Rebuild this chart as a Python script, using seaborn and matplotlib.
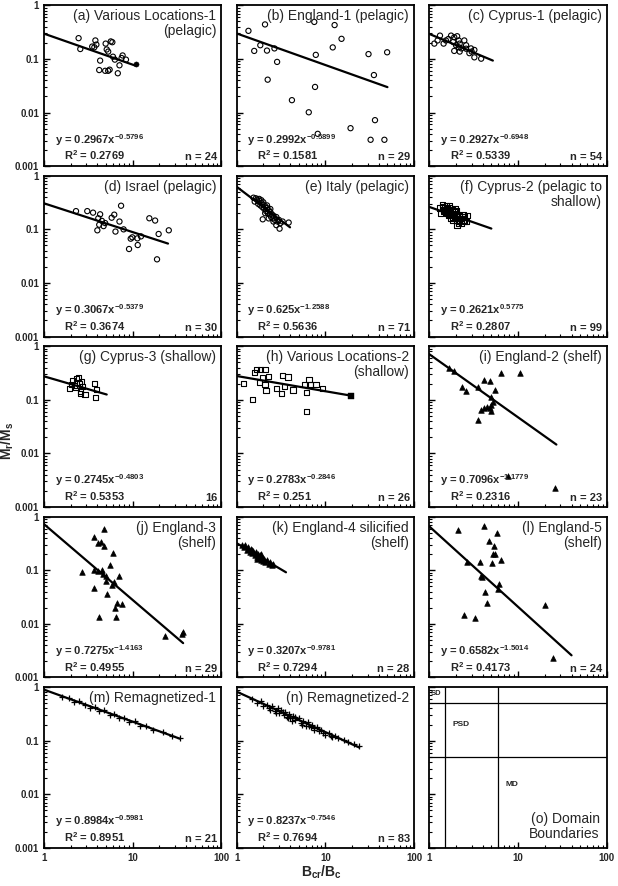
import numpy as np
import matplotlib
matplotlib.use('Agg')
import matplotlib.pyplot as plt
import matplotlib.ticker as mticker
import seaborn as sns

sns.set_theme(style='ticks')
plt.rcParams['font.family'] = ['Liberation Sans', 'DejaVu Sans']
plt.rcParams['mathtext.default'] = 'regular'

# ---- data (Bcr/Bc, Mr/Ms) ----
a_x = [2.46, 2.57, 3.8, 3.9, 3.7, 4.96, 5.67, 5.9, 5.3, 4.3, 4.2, 4.9, 5.3, 5.5, 6.8, 6.3, 7.1, 7.7, 8.4, 7.5, 3.5, 5.1, 6.0]
a_y = [0.244, 0.153, 0.221, 0.185, 0.165, 0.193, 0.212, 0.205, 0.137, 0.093, 0.062, 0.060, 0.060, 0.063, 0.054, 0.097, 0.076, 0.116, 0.097, 0.104, 0.17, 0.15, 0.11]
a_fill_x = [10.8]
a_fill_y = [0.082]

b_x = [1.36, 1.58, 1.85, 2.09, 2.2, 2.67, 2.86, 2.24, 4.2, 6.5, 7.5, 7.8, 7.65, 8.2, 12.1, 12.7, 15.2, 19.2, 30.6, 35.2, 36.2, 32.3, 46.2, 49.6]
b_y = [0.334, 0.141, 0.18, 0.44, 0.143, 0.157, 0.088, 0.041, 0.017, 0.0101, 0.49, 0.119, 0.030, 0.0040, 0.164, 0.428, 0.237, 0.0051, 0.123, 0.050, 0.0072, 0.0031, 0.0031, 0.133]

c_x = [1.14, 1.24, 1.32, 1.54, 1.76, 1.91, 2.06, 2.15, 1.86, 2.0, 2.2, 2.48, 2.6, 1.91, 2.3, 2.83, 3.0, 3.22, 3.22, 3.84, 2.95, 2.15, 1.64, 1.45, 2.6, 2.2]
c_y = [0.193, 0.221, 0.272, 0.221, 0.272, 0.254, 0.265, 0.221, 0.207, 0.18, 0.193, 0.221, 0.18, 0.141, 0.157, 0.128, 0.137, 0.147, 0.107, 0.101, 0.157, 0.165, 0.235, 0.193, 0.155, 0.137]

d_x = [2.3, 3.08, 3.58, 4.3, 4.1, 4.5, 4.2, 4.7, 4.0, 4.9, 5.8, 6.2, 7.1, 6.4, 7.4, 7.9, 9.1, 9.5, 9.9, 11.4, 11.3, 12.4, 15.4, 17.9, 18.8, 19.6, 25.5]
d_y = [0.219, 0.219, 0.205, 0.191, 0.161, 0.144, 0.122, 0.115, 0.096, 0.131, 0.165, 0.188, 0.14, 0.091, 0.276, 0.1, 0.043, 0.067, 0.071, 0.051, 0.068, 0.074, 0.161, 0.146, 0.0276, 0.082, 0.096]

e_x = [1.55, 1.6, 1.7, 1.75, 1.8, 1.85, 1.9, 1.95, 2.0, 2.05, 2.1, 2.15, 2.2, 2.25, 2.3, 2.35, 2.4, 2.45, 2.5, 2.55,
       2.6, 2.7, 2.8, 2.9, 3.0, 3.1, 3.3, 3.05, 3.86, 1.97, 1.65, 1.8, 2.0, 2.2, 2.4, 2.6, 2.8, 2.3, 2.1, 1.9]
e_y = [0.39, 0.33, 0.36, 0.30, 0.34, 0.28, 0.31, 0.26, 0.29, 0.24, 0.27, 0.22, 0.25, 0.20, 0.23, 0.19, 0.21, 0.17, 0.19, 0.16,
       0.18, 0.15, 0.17, 0.14, 0.15, 0.13, 0.14, 0.103, 0.134, 0.154, 0.38, 0.37, 0.32, 0.28, 0.24, 0.14, 0.12, 0.16, 0.20, 0.35]

f_x = [1.3, 1.35, 1.41, 1.45, 1.5, 1.55, 1.6, 1.65, 1.68, 1.7, 1.75, 1.8, 1.85, 1.9, 1.95, 2.0, 2.05, 2.1, 2.15, 2.2, 2.3, 2.4, 2.5,
       2.6, 2.7, 1.4, 1.5, 1.6, 1.7, 1.8, 1.9, 2.0, 2.1, 2.2, 2.3, 2.4, 2.5, 1.55, 1.75, 1.95, 2.15, 2.35, 1.65, 1.85, 2.05]
f_y = [0.25, 0.197, 0.295, 0.22, 0.26, 0.20, 0.24, 0.18, 0.276, 0.22, 0.19, 0.23, 0.17, 0.21, 0.16, 0.20, 0.15, 0.19, 0.14, 0.18, 0.16, 0.15, 0.17,
       0.14, 0.179, 0.27, 0.23, 0.21, 0.25, 0.20, 0.18, 0.22, 0.17, 0.15, 0.13, 0.19, 0.14, 0.28, 0.16, 0.24, 0.13, 0.17, 0.19, 0.15, 0.12]

g_x = [1.95, 2.12, 2.34, 2.43, 2.5, 2.2, 2.67, 2.6, 2.57, 2.9, 3.7, 3.9, 3.8, 2.05, 2.3, 2.75]
g_y = [0.164, 0.229, 0.247, 0.265, 0.203, 0.182, 0.222, 0.146, 0.132, 0.125, 0.203, 0.157, 0.111, 0.19, 0.17, 0.18]

h_x = [1.19, 1.51, 1.58, 1.66, 1.86, 2.09, 1.8, 1.96, 2.28, 2.14, 2.09, 2.79, 3.18, 3.3, 3.79, 3.5, 4.33, 5.78, 6.1, 6.15, 6.55, 6.8, 7.86, 9.36]
h_y = [0.203, 0.1, 0.319, 0.37, 0.37, 0.37, 0.212, 0.258, 0.274, 0.15, 0.196, 0.162, 0.131, 0.287, 0.266, 0.175, 0.152, 0.191, 0.139, 0.061, 0.239, 0.191, 0.191, 0.160]
h_fill_x = [19.2]
h_fill_y = [0.116]

i_x = [1.68, 1.92, 2.32, 2.62, 3.58, 4.18, 4.89, 5.52, 5.0, 3.78, 3.58, 4.1, 4.5, 4.89, 5.0, 5.0, 5.2, 6.34, 10.4, 7.8, 26.3]
i_y = [0.388, 0.348, 0.172, 0.146, 0.172, 0.239, 0.229, 0.152, 0.113, 0.064, 0.042, 0.07, 0.075, 0.07, 0.081, 0.062, 0.09, 0.314, 0.314, 0.0038, 0.0023]

j_x = [2.72, 3.64, 4.03, 4.4, 4.72, 4.8, 3.67, 4.1, 4.5, 4.64, 4.95, 4.95, 3.64, 4.2, 5.2, 5.53, 6.0, 5.9, 6.1, 6.37, 6.5, 6.7, 7.5, 7.1, 23.4, 36.1, 37.0]
j_y = [0.093, 0.41, 0.326, 0.34, 0.58, 0.289, 0.103, 0.097, 0.1, 0.086, 0.079, 0.063, 0.046, 0.0132, 0.036, 0.126, 0.206, 0.052, 0.06, 0.02, 0.0132, 0.025, 0.023, 0.077, 0.006, 0.0066, 0.007]

k_x = [1.15, 1.2, 1.25, 1.3, 1.35, 1.4, 1.45, 1.5, 1.55, 1.6, 1.65, 1.7, 1.75, 1.8, 1.85, 1.9, 1.95, 2.0, 2.05, 2.1, 2.2, 2.3, 2.4, 2.5, 2.6, 1.5, 1.7, 1.9]
k_y = [0.30, 0.27, 0.29, 0.24, 0.27, 0.22, 0.25, 0.21, 0.23, 0.19, 0.22, 0.18, 0.20, 0.17, 0.19, 0.155, 0.175, 0.15, 0.165, 0.14, 0.155, 0.13, 0.145, 0.125, 0.13, 0.24, 0.16, 0.20]

l_x = [2.09, 4.18, 5.77, 4.68, 5.33, 5.2, 5.5, 5.06, 6.45, 3.7, 2.66, 3.84, 3.9, 6.07, 6.0, 4.29, 4.49, 2.49, 3.31, 19.9, 24.8]
l_y = [0.558, 0.681, 0.501, 0.352, 0.28, 0.2, 0.2, 0.136, 0.154, 0.142, 0.142, 0.079, 0.074, 0.056, 0.044, 0.039, 0.024, 0.0147, 0.0126, 0.0226, 0.0023]

m_x = [1.6, 1.9, 2.2, 2.5, 2.9, 3.3, 3.8, 4.2, 4.8, 5.5, 6.2, 7.0, 8.0, 9.0, 10.5, 12, 14, 17, 22, 28, 34]
m_y = [0.66, 0.63, 0.52, 0.55, 0.46, 0.41, 0.43, 0.36, 0.37, 0.30, 0.32, 0.27, 0.27, 0.22, 0.23, 0.19, 0.19, 0.16, 0.145, 0.125, 0.11]

n_x = [1.5, 1.7, 1.9, 2.0, 2.2, 2.4, 2.5, 2.7, 2.9, 3.0, 3.2, 3.4, 3.5, 3.7, 3.9, 4.0, 4.3, 4.6, 5.0, 5.3, 5.6, 6.0, 6.4,
       6.8, 7.0, 7.5, 8.0, 8.5, 9.0, 10, 11, 12, 13, 14, 2.3, 2.8, 3.3, 3.8, 4.5, 5.5, 6.5, 7.5, 9.5, 11.5, 4.2,
       16, 18, 21, 24]
n_y = [0.60, 0.50, 0.55, 0.45, 0.47, 0.38, 0.44, 0.36, 0.40, 0.33, 0.37, 0.30, 0.34, 0.28, 0.31, 0.27, 0.29, 0.24, 0.26, 0.21, 0.23, 0.19, 0.22,
       0.18, 0.20, 0.16, 0.18, 0.15, 0.16, 0.13, 0.14, 0.115, 0.12, 0.11, 0.40, 0.33, 0.35, 0.26, 0.28, 0.20, 0.19, 0.17, 0.14, 0.12, 0.23,
       0.105, 0.095, 0.088, 0.078]

# power-law fits y = A x^B, drawn from x = 1 to line_end
fit_a = [0.2967, 0.2992, 0.2927, 0.3067, 0.625, 0.2621, 0.2745, 0.2783, 0.7096, 0.7275, 0.3207, 0.6582, 0.8984, 0.8237]
fit_b = [-0.5796, -0.5899, -0.6948, -0.5379, -1.2588, -0.5775, -0.4803, -0.2846, -1.1779, -1.4163, -0.9781, -1.5014, -0.5981, -0.7546]
line_end = [10.8, 50, 5.2, 25, 4.0, 5.0, 5.1, 19.2, 27, 37, 3.6, 40, 34, 24]

eq_text = ['y = 0.2967x$^{-0.5796}$', 'y = 0.2992x$^{-0.5899}$', 'y = 0.2927x$^{-0.6948}$',
           'y = 0.3067x$^{-0.5379}$', 'y = 0.625x$^{-1.2588}$', 'y = 0.2621x$^{0.5775}$',
           'y = 0.2745x$^{-0.4803}$', 'y = 0.2783x$^{-0.2846}$', 'y = 0.7096x$^{-1.1779}$',
           'y = 0.7275x$^{-1.4163}$', 'y = 0.3207x$^{-0.9781}$', 'y = 0.6582x$^{-1.5014}$',
           'y = 0.8984x$^{-0.5981}$', 'y = 0.8237x$^{-0.7546}$']
r2_text = ['0.2769', '0.1581', '0.5339', '0.3674', '0.5636', '0.2807', '0.5353', '0.251',
           '0.2316', '0.4955', '0.7294', '0.4173', '0.8951', '0.7694']
n_text = ['n = 24', 'n = 29', 'n = 54', 'n = 30', 'n = 71', 'n = 99', '16', 'n = 26',
          'n = 23', 'n = 29', 'n = 28', 'n = 24', 'n = 21', 'n = 83']
titles = ['(a) Various Locations-1\n(pelagic)', '(b) England-1 (pelagic)', '(c) Cyprus-1 (pelagic)',
          '(d) Israel (pelagic)', '(e) Italy (pelagic)', '(f) Cyprus-2 (pelagic to\nshallow)',
          '(g) Cyprus-3 (shallow)', '(h) Various Locations-2\n(shallow)', '(i) England-2 (shelf)',
          '(j) England-3\n(shelf)', '(k) England-4 silicified\n(shelf)', '(l) England-5\n(shelf)',
          '(m) Remagnetized-1', '(n) Remagnetized-2']

# domain boundaries (Bcr/Bc and Mr/Ms)
bound_bcr = [1.5, 6.0]
bound_mrs = [0.5, 0.05]

xs_all = [a_x, b_x, c_x, d_x, e_x, f_x, g_x, h_x, i_x, j_x, k_x, l_x, m_x, n_x]
ys_all = [a_y, b_y, c_y, d_y, e_y, f_y, g_y, h_y, i_y, j_y, k_y, l_y, m_y, n_y]
markers = ['o'] * 5 + ['s'] * 3 + ['^'] * 4 + ['+'] * 2

fig, axes = plt.subplots(5, 3, figsize=(6.18, 8.86), dpi=100)
fig.subplots_adjust(left=0.071, right=0.982, top=0.994, bottom=0.043, wspace=0.085, hspace=0.06)

for idx, ax in enumerate(axes.flat):
    ax.set_xscale('log')
    ax.set_yscale('log')
    ax.set_xlim(1, 100)
    ax.set_ylim(0.001, 1)
    for sp in ax.spines.values():
        sp.set_linewidth(1.3)
        sp.set_color('black')
    ax.tick_params(which='both', direction='in', color='black', labelsize=7)
    ax.tick_params(which='major', length=4, width=1)
    ax.tick_params(which='minor', length=2.5, width=0.8)
    ax.xaxis.set_major_locator(mticker.LogLocator(base=10, numticks=5))
    ax.xaxis.set_minor_locator(mticker.LogLocator(base=10, subs=np.arange(2, 10), numticks=20))
    ax.yaxis.set_major_locator(mticker.LogLocator(base=10, numticks=6))
    ax.yaxis.set_minor_locator(mticker.LogLocator(base=10, subs=np.arange(2, 10), numticks=20))
    ax.xaxis.set_major_formatter(mticker.FuncFormatter(lambda v, p: f'{v:g}'))
    ax.yaxis.set_major_formatter(mticker.FuncFormatter(lambda v, p: f'{v:g}'))
    ax.xaxis.set_minor_formatter(mticker.NullFormatter())
    ax.yaxis.set_minor_formatter(mticker.NullFormatter())
    for lab in ax.get_xticklabels() + ax.get_yticklabels():
        lab.set_fontweight('bold')
    if idx % 3 != 0:
        ax.tick_params(labelleft=False)
    if idx < 12:
        ax.tick_params(labelbottom=False)

    if idx == 14:
        for v in bound_bcr:
            ax.axvline(v, color='black', lw=0.9)
        for v in bound_mrs:
            ax.axhline(v, color='black', lw=0.9)
        ax.text(1.2, 0.75, 'SD', fontsize=5.5, fontweight='bold', ha='center', va='center')
        ax.text(2.3, 0.2, 'PSD', fontsize=6, fontweight='bold', ha='center', va='center')
        ax.text(8.5, 0.015, 'MD', fontsize=6, fontweight='bold', ha='center', va='center')
        ax.text(0.96, 0.04, '(o) Domain\nBoundaries', transform=ax.transAxes, ha='right', va='bottom',
                fontsize=10, linespacing=1.1)
        continue

    mk = markers[idx]
    if mk in ('o', 's'):
        sns.scatterplot(x=xs_all[idx], y=ys_all[idx], ax=ax, marker=mk, s=14,
                        facecolor='none', edgecolor='black', linewidth=0.8)
    elif mk == '^':
        sns.scatterplot(x=xs_all[idx], y=ys_all[idx], ax=ax, marker=mk, s=16,
                        color='black', edgecolor='black', linewidth=0.5)
    else:
        sns.scatterplot(x=xs_all[idx], y=ys_all[idx], ax=ax, marker='+', s=22,
                        color='black', linewidth=0.9)
    if idx == 0:
        sns.scatterplot(x=a_fill_x, y=a_fill_y, ax=ax, marker='o', s=14, color='black', edgecolor='black')
    if idx == 7:
        sns.scatterplot(x=h_fill_x, y=h_fill_y, ax=ax, marker='s', s=14, color='black', edgecolor='black')

    xl = np.geomspace(1, line_end[idx], 40)
    yl = fit_a[idx] * xl ** fit_b[idx]
    sns.lineplot(x=xl, y=yl, ax=ax, color='black', lw=1.6, estimator=None)

    ax.text(0.97, 0.975, titles[idx], transform=ax.transAxes, ha='right', va='top',
            fontsize=10, linespacing=1.1)
    ax.text(0.06, 0.14, eq_text[idx], transform=ax.transAxes, ha='left', va='baseline',
            fontsize=8, fontweight='bold')
    ax.text(0.115, 0.035, 'R$^2$ = ' + r2_text[idx], transform=ax.transAxes, ha='left', va='baseline',
            fontsize=8, fontweight='bold')
    ax.text(0.975, 0.035, n_text[idx], transform=ax.transAxes, ha='right', va='baseline',
            fontsize=8, fontweight='bold')

fig.text(0.012, 0.503, 'M$_r$/M$_s$', rotation=90, ha='center', va='center', fontsize=10, fontweight='bold')
fig.text(0.52, 0.006, 'B$_{cr}$/B$_c$', ha='center', va='bottom', fontsize=10, fontweight='bold')

fig.savefig('out.png', dpi=100)
